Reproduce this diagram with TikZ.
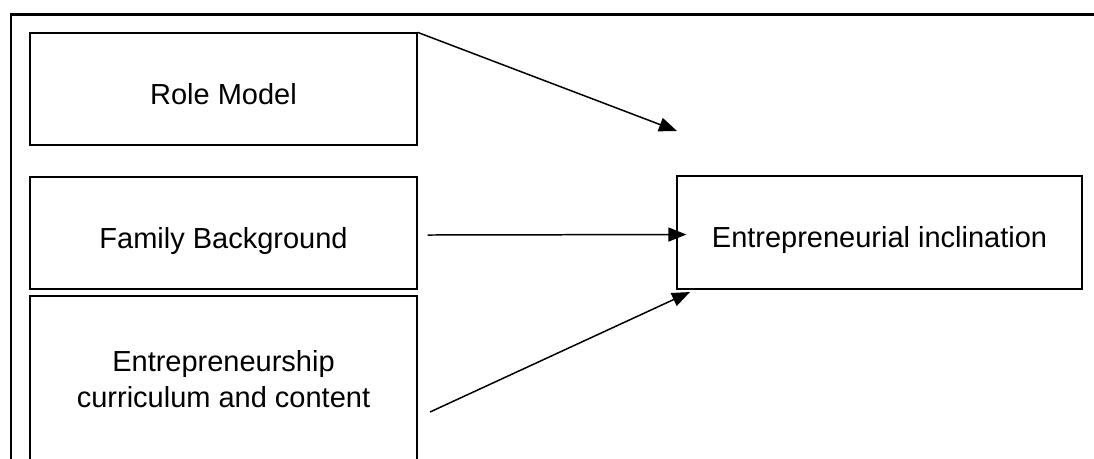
\documentclass[tikz,border=0pt]{standalone}
\usepackage{fontspec}
\setmainfont{Liberation Sans}
\usetikzlibrary{arrows.meta}

\begin{document}
\begin{tikzpicture}[x=0.02cm,y=-0.02cm,
  factor/.style={draw,line width=0.75pt,minimum width=7.74cm,minimum height=2.24cm,align=center,font=\fontsize{16.5}{20.5}\selectfont},
  oneline/.style={text height=0.7cm,text depth=0.1cm},
  outcome/.style={factor,oneline,minimum width=8.1cm,minimum height=2.26cm},
  link/.style={-{Triangle[length=0.36cm,width=0.28cm]},line width=0.85pt}]

\useasboundingbox (0,0) rectangle (1094,458);
\clip (0,0) rectangle (1094,458);

% frame
\draw[line width=1.2pt] (11,470) -- (11,14.5) -- (1100,14.5);

\node[factor,oneline](rolemodel) at (223.5,89) {Role Model};
\node[factor,oneline](family) at (223.5,233) {Family Background};
\node[factor,minimum height=3.32cm](curriculum) at (223.5,379) {Entrepreneurship\\curriculum and content};

\node[outcome](inclination) at (879.5,232.5) {Entrepreneurial inclination};

\coordinate (tiprole) at (677,131);
\coordinate (startcur) at (430,412);
\coordinate (tipcur) at (690,292);

\draw[link] (rolemodel.north east) -- (tiprole);
\draw[link] ([xshift=0.2cm,yshift=-0.04cm]family.east) -- ([xshift=0.2cm,yshift=-0.04cm]inclination.west);
\draw[link] (startcur) -- (tipcur);

\end{tikzpicture}
\end{document}
